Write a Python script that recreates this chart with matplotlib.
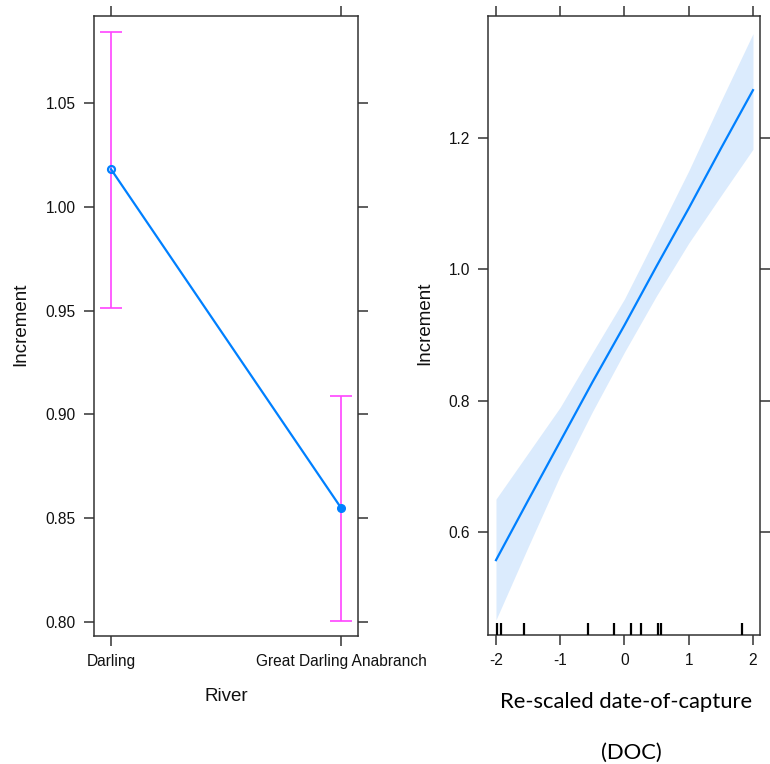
from __future__ import annotations

import matplotlib

matplotlib.use("Agg")
import matplotlib.pyplot as plt


# River effect (left panel)
rivers = ["Darling", "Great Darling Anabranch"]
river_fit = [1.018, 0.855]
river_lower = [0.951, 0.8005]
river_upper = [1.084, 0.9087]

# Date-of-capture effect (right panel)
doc_x = [-2.0, -1.5, -1.0, -0.5, 0.0, 0.5, 1.0, 1.5, 2.0]
doc_fit = [0.557, 0.648, 0.738, 0.828, 0.915, 1.005, 1.093, 1.184, 1.273]
doc_lower = [0.466, 0.577, 0.686, 0.783, 0.874, 0.960, 1.040, 1.112, 1.183]
doc_upper = [0.650, 0.720, 0.790, 0.873, 0.955, 1.052, 1.150, 1.256, 1.359]
doc_rug = [-1.98, -1.92, -1.56, -0.565, -0.16, 0.109, 0.254, 0.524, 0.575, 1.83]

river_yticks = [0.80, 0.85, 0.90, 0.95, 1.00, 1.05]
doc_xticks = [-2, -1, 0, 1, 2]
doc_yticks = [0.6, 0.8, 1.0, 1.2]

LINE_BLUE = "#0080ff"
CI_MAGENTA = "#ff44ff"
BAND_BLUE = "#dbebfd"
FRAME = "#333333"

plt.rcParams["axes.unicode_minus"] = False


def style_axes(ax) -> None:
    for spine in ax.spines.values():
        spine.set_color(FRAME)
        spine.set_linewidth(1.1)
    ax.tick_params(
        which="both", direction="out", length=7, width=1.1, color=FRAME,
        top=True, right=True, labeltop=False, labelright=False,
        labelsize=11.2, labelcolor="#111111", pad=6,
    )
    for label in ax.get_xticklabels() + ax.get_yticklabels():
        label.set_family("Liberation Sans")


def main() -> None:
    fig = plt.figure(figsize=(7.7, 7.64), dpi=100)

    # left: categorical effect with confidence intervals
    ax1 = fig.add_axes([0.1221, 0.1675, 0.3429, 0.8116])
    pos = list(range(len(rivers)))
    ax1.plot(pos, river_fit, color=LINE_BLUE, linewidth=1.6, zorder=3)
    ax1.errorbar(pos, river_fit,
                 yerr=[[f - lo for f, lo in zip(river_fit, river_lower)],
                       [hi - f for f, hi in zip(river_fit, river_upper)]],
                 fmt="none", ecolor=CI_MAGENTA, elinewidth=1.2, capsize=8, capthick=1.2, zorder=2)
    ax1.plot(pos[0], river_fit[0], marker="o", markersize=5, markerfacecolor="none",
             markeredgecolor=LINE_BLUE, markeredgewidth=1.6, linestyle="none", zorder=4)
    ax1.plot(pos[1], river_fit[1], marker="o", markersize=5.5, color=LINE_BLUE,
             linestyle="none", zorder=4)
    ax1.set_xlim(-0.074, 1.074)
    ax1.set_ylim(0.7933, 1.0918)
    ax1.set_xticks(pos)
    ax1.set_xticklabels(rivers)
    ax1.set_yticks(river_yticks)
    ax1.set_yticklabels([f"{v:.2f}" for v in river_yticks])
    style_axes(ax1)
    ax1.text(-0.2765, 0.503, "Increment", transform=ax1.transAxes, rotation=90,
             ha="center", va="center", fontsize=13.5, family="Liberation Sans", color="#111111")
    ax1.text(0.5, -0.098, "River", transform=ax1.transAxes,
             ha="center", va="center", fontsize=13.5, family="Liberation Sans", color="#111111")

    # right: continuous effect with confidence band and rug
    ax2 = fig.add_axes([0.6338, 0.1689, 0.3532, 0.8102])
    ax2.fill_between(doc_x, doc_lower, doc_upper, color=BAND_BLUE, linewidth=0, zorder=1)
    ax2.plot(doc_x, doc_fit, color=LINE_BLUE, linewidth=1.6, zorder=3)
    ax2.vlines(doc_rug, 0, 0.02, transform=ax2.get_xaxis_transform(),
               color="black", linewidth=1.6, zorder=4)
    ax2.set_xlim(-2.124, 2.109)
    ax2.set_ylim(0.443, 1.386)
    ax2.set_xticks(doc_xticks)
    ax2.set_yticks(doc_yticks)
    ax2.set_yticklabels([f"{v:.1f}" for v in doc_yticks])
    style_axes(ax2)
    ax2.text(-0.2316, 0.503, "Increment", transform=ax2.transAxes, rotation=90,
             ha="center", va="center", fontsize=13.5, family="Liberation Sans", color="#111111")
    ax2.text(0.507, -0.108, "Re-scaled date-of-capture", transform=ax2.transAxes,
             ha="center", va="center", fontsize=15.8, family="Lato", color="black")
    ax2.text(0.526, -0.191, "(DOC)", transform=ax2.transAxes,
             ha="center", va="center", fontsize=15.8, family="Lato", color="black")

    fig.savefig("out.png", dpi=100)
    plt.close(fig)


if __name__ == "__main__":
    main()
